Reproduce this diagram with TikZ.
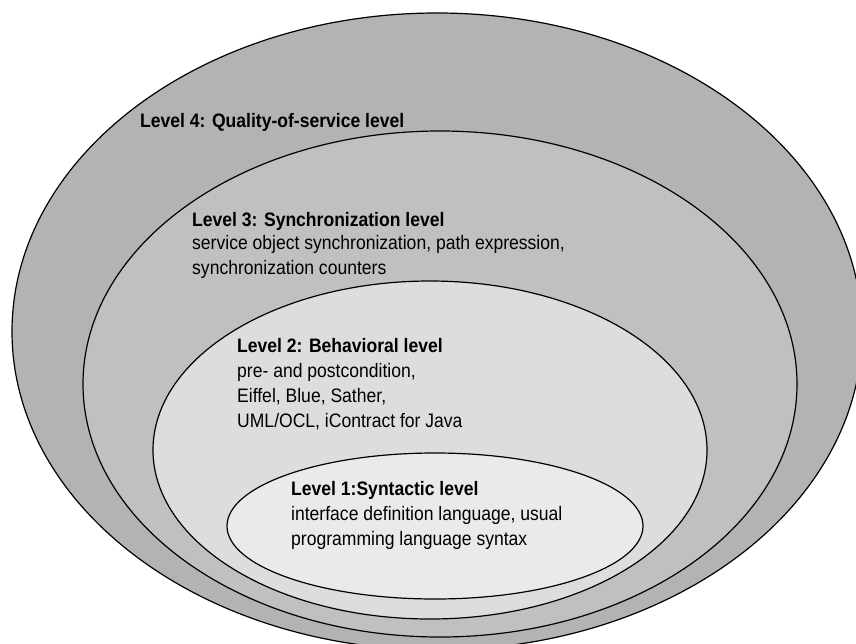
\documentclass[tikz,border=0pt]{standalone}
\usepackage{fontspec}
\setmainfont{Liberation Sans}[FakeStretch=0.9]
\begin{document}
\begin{tikzpicture}[x=1pt,y=-1pt,
  ring/.style={draw=black,line width=1.2pt},
  title/.style={anchor=base west,inner sep=0pt,font=\fontsize{19.5}{25}\selectfont\bfseries},
  body/.style={anchor=base west,inner sep=0pt,align=left,font=\fontsize{19.5}{25}\selectfont}]
\definecolor{lvfour}{RGB}{179,179,179}
\definecolor{lvthree}{RGB}{192,192,192}
\definecolor{lvtwo}{RGB}{221,221,221}
\definecolor{lvone}{RGB}{234,234,234}
\useasboundingbox (0,0) rectangle (856,643);
\clip (0,0) rectangle (856,643);
% nested levels, outermost first
\draw[ring,fill=lvfour]  (437,331.5) ellipse [x radius=425pt,y radius=318.5pt];
\draw[ring,fill=lvthree] (440,384)   ellipse [x radius=357pt,y radius=253pt];
\draw[ring,fill=lvtwo]   (430,450)   ellipse [x radius=277pt,y radius=169pt];
\draw[ring,fill=lvone]   (435,526)   ellipse [x radius=208pt,y radius=73pt];
% labels (body blocks are placed by the baseline of their last line)
\node[title] (t4) at (140,127) {Level 4: Quality-of-service level};
\node[title] (t3) at (192,226) {Level 3: Synchronization level};
\node[body]  (b3) at (192,274) {service object synchronization, path expression,\\synchronization counters};
\node[title] (t2) at (237,352) {Level 2: Behavioral level};
\node[body]  (b2) at (237,427) {pre- and postcondition,\\Eiffel, Blue, Sather,\\UML/OCL, iContract for Java};
\node[title] (t1) at (291,495) {Level 1:Syntactic level};
\node[body]  (b1) at (291,545) {interface definition language, usual\\programming language syntax};
\end{tikzpicture}
\end{document}
